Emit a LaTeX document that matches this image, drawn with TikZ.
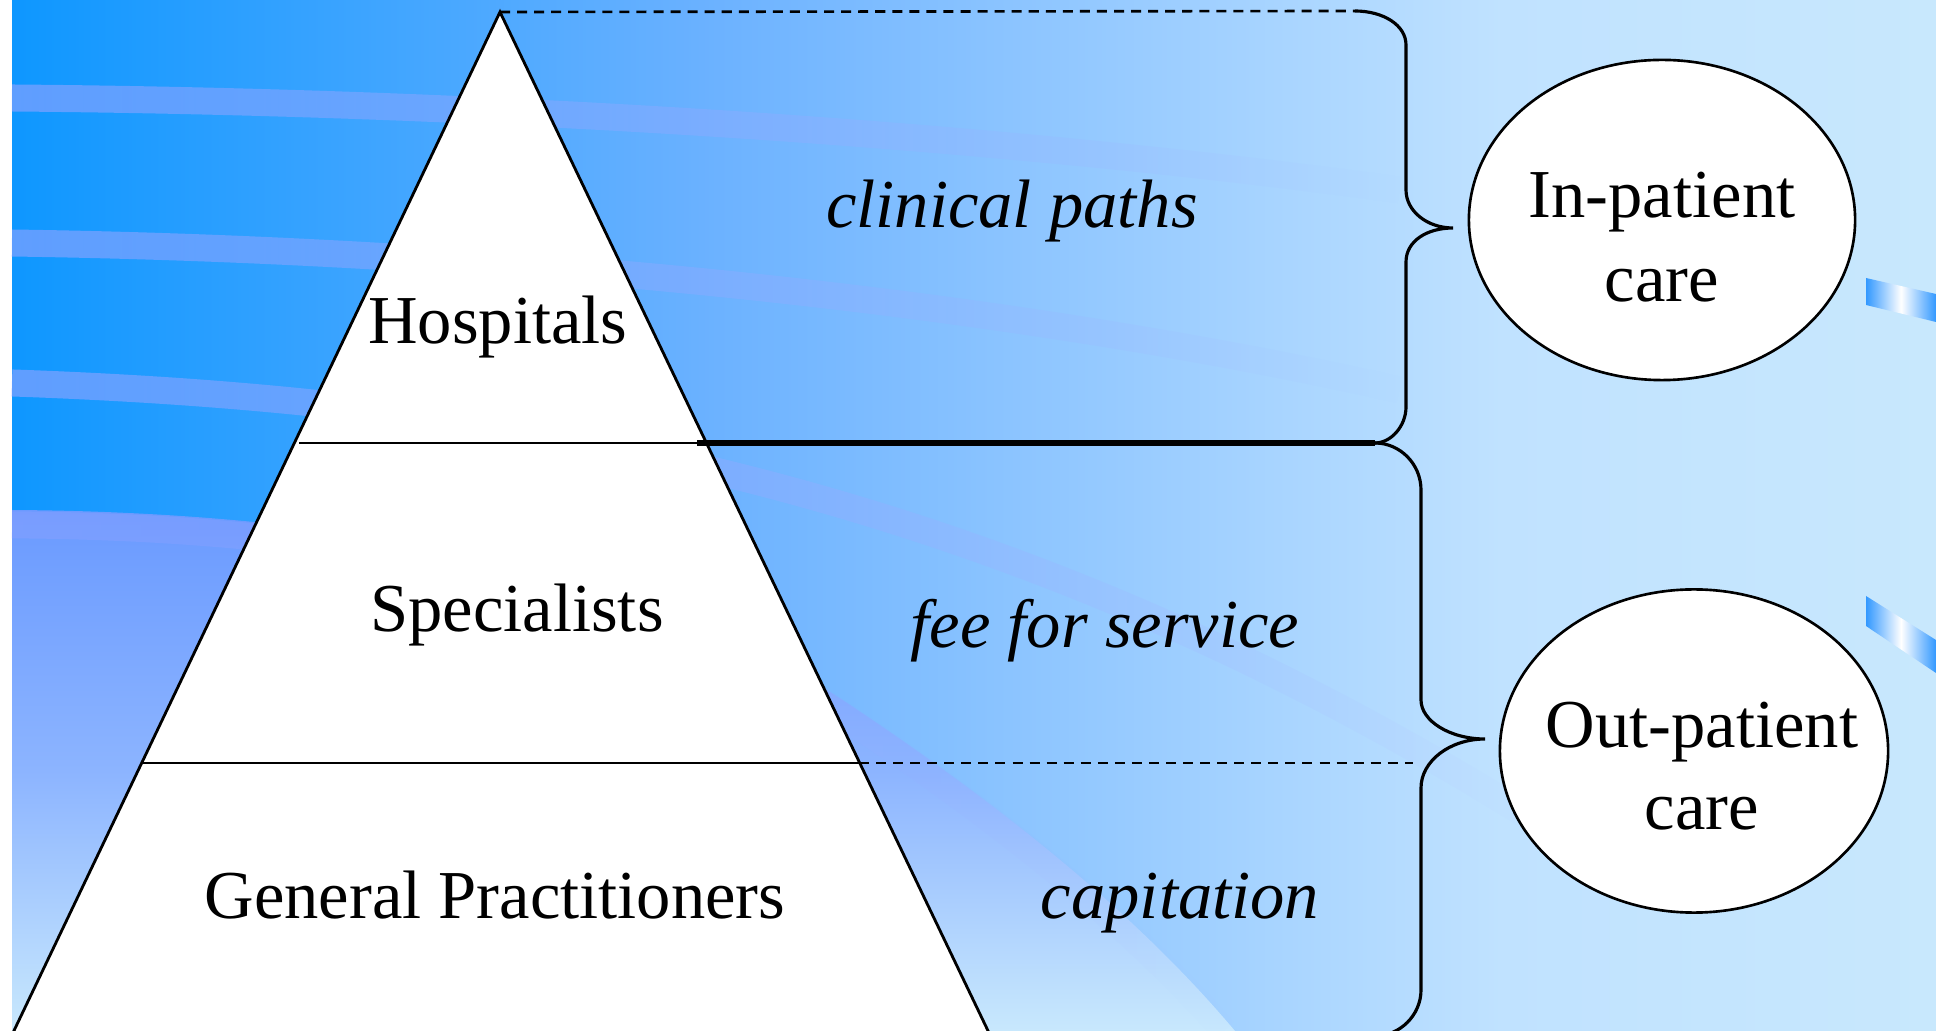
\documentclass[tikz,border=0pt]{standalone}
\usepackage{fontspec}
\setmainfont{Liberation Serif}
\usetikzlibrary{positioning,shapes.geometric,fadings}

\definecolor{fondA}{RGB}{14,151,255}
\definecolor{fondB}{RGB}{106,177,255}
\definecolor{fondC}{RGB}{192,226,255}
\definecolor{fondD}{RGB}{200,232,253}
\definecolor{lilas}{RGB}{106,154,255}
\definecolor{lilasmid}{RGB}{140,180,255}
\definecolor{bandecol}{RGB}{165,165,255}
\definecolor{deco}{RGB}{50,152,255}

\tikzfading[name=bandefade, left color=transparent!0, middle color=transparent!25, right color=transparent!100]

\begin{document}
\begin{tikzpicture}[
    x={(0.01cm,0cm)},
    y={(0cm,-0.01cm)},
    mot/.style={font=\fontsize{19.5}{23.9}\selectfont, inner sep=0pt, anchor=base},
    paiement/.style={mot, font=\fontsize{19.5}{23.9}\selectfont\itshape},
    soin/.style={ellipse, draw, fill=white, line width=0.75pt, inner sep=0pt},
    bande/.style={draw=bandecol, line width=0.27cm, opacity=0.55, path fading=bandefade},
    pointille/.style={line width=0.75pt, dash pattern=on 2.85pt off 2pt},
    accolade/.style={draw, line width=0.9pt},
    motif/.style={left color=deco, right color=deco, middle color=white}
]
    \useasboundingbox (0,0) rectangle (1936,1031);
    \clip (0,0) rectangle (1936,1031);

    % Fond
    \fill[white] (0,0) rectangle (1936,1031);
    \shade[left color=fondA, right color=fondB] (12,0) rectangle (702,1031);
    \shade[left color=fondB, right color=fondC] (700,0) rectangle (1502,1031);
    \shade[left color=fondC, right color=fondD] (1500,0) rectangle (1936,1031);
    \shade[top color=lilas, bottom color=fondD, middle color=lilasmid] (12,510) .. controls (350,512) and (650,570) .. (850,705) .. controls (1030,825) and (1150,930) .. (1235,1031) -- (12,1031) -- cycle;

    % Bandes claires
    \draw[bande] (12,98) .. controls (500,102) and (1000,135) .. (1400,190);
    \draw[bande] (12,243) .. controls (500,250) and (1000,300) .. (1400,390);
    \draw[bande] (12,383) .. controls (500,400) and (1000,480) .. (1550,830);
    \draw[bande, opacity=0.25] (12,525) .. controls (350,527) and (650,585) .. (850,720) .. controls (1030,840) and (1150,945) .. (1225,1031);

    % Motifs au bord droit
    \shade[motif] (1866,278) -- (1936,294) -- (1936,322) -- (1866,305) -- cycle;
    \shade[motif] (1866,596) -- (1936,640) -- (1936,673) -- (1866,626) -- cycle;

    % Pyramide
    \coordinate (sommet) at (500,12);
    \coordinate (basedroite) at (1002,1060);
    \coordinate (basegauche) at (0,1060);
    \filldraw[fill=white, line width=0.8pt] (sommet) -- (basedroite) -- (basegauche) -- cycle;

    % Niveaux
    \coordinate (hosp-g) at (299,443);
    \coordinate (hosp-d) at (697,443);
    \coordinate (acc-mid) at (1375,443);
    \coordinate (gen-g) at (142,763);
    \coordinate (gen-d) at (859,763);
    \coordinate (tiret-fin) at (1413,763);
    \coordinate (acc-haut) at (1355,11);
    \coordinate (acc-bas) at (1375,1036);
    \draw[line width=0.8pt] (hosp-g) -- (hosp-d);
    \draw[line width=1.9pt] (hosp-d) -- (acc-mid);
    \draw[line width=0.8pt] (gen-g) -- (gen-d);
    \draw[pointille] (gen-d) -- (tiret-fin);
    \draw[pointille] (sommet) -- (acc-haut);

    % Accolades
    \draw[accolade] (acc-haut) .. controls (1383,11) and (1406,25) .. (1406,45)
        -- (1406,190) .. controls (1406,211) and (1427,228) .. (1453,228)
        .. controls (1427,228) and (1406,241) .. (1406,262)
        -- (1406,407) .. controls (1406,426) and (1391,443) .. (acc-mid);
    \draw[accolade] (acc-mid) .. controls (1400,443) and (1421,464) .. (1421,490)
        -- (1421,700) .. controls (1421,721) and (1450,739) .. (1485,739)
        .. controls (1450,739) and (1421,761) .. (1421,788)
        -- (1421,990) .. controls (1421,1015) and (1400,1036) .. (acc-bas);

    % Soins
    \node[soin, minimum width=3.86cm, minimum height=3.20cm] (hospit) at (1662,220) {};
    \node[soin, minimum width=3.88cm, minimum height=3.23cm] (ambu) at (1694,751) {};

    % Textes
    \node[mot] (hopitaux) at (498,344) {Hospitals};
    \node[mot] (specialistes) at (517,632) {Specialists};
    \node[mot] (generalistes) at (495,919) {General Practitioners};
    \node[paiement] (parcours) at (1012,228) {clinical paths};
    \node[paiement] (acte) at (1105,648) {fee for service};
    \node[paiement] (capita) at (1180,919) {capitation};
    \node[mot] (hospit-l1) at (1662,218) {In-patient};
    \node[mot] (hospit-l2) at (1662,302) {care};
    \node[mot] (ambu-l1) at (1702,748) {Out-patient};
    \node[mot] (ambu-l2) at (1702,830) {care};

\end{tikzpicture}
\end{document}
